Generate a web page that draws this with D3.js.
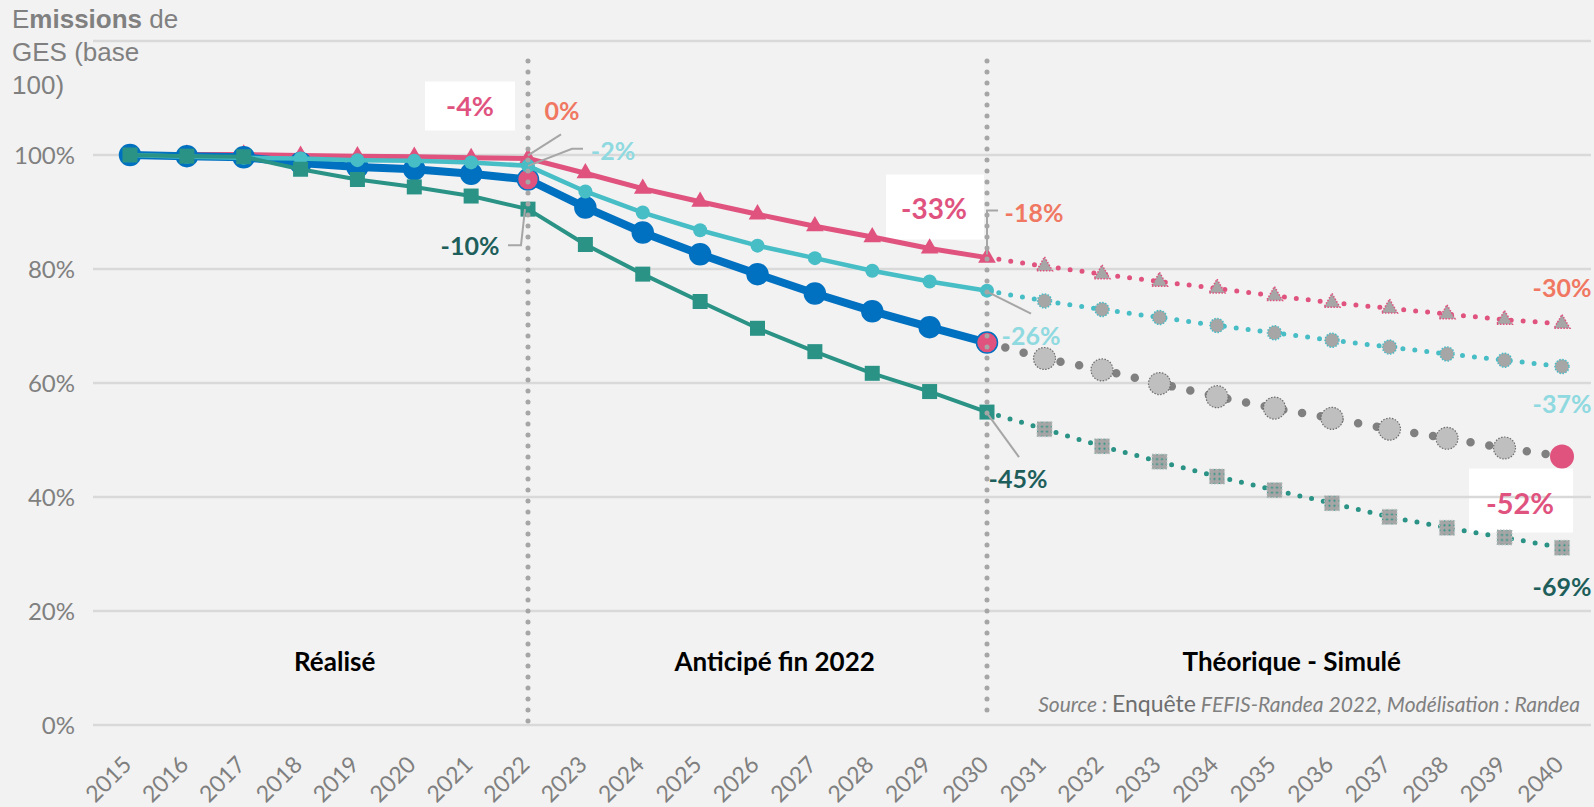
<!DOCTYPE html>
<html>
<head>
<meta charset="utf-8">
<script src="https://cdn.jsdelivr.net/npm/d3@7"></script>
<style>
  html, body { margin: 0; padding: 0; background: #F2F2F2; }
  svg { display: block; }
</style>
</head>
<body>
<div id="chart"></div>
<script>
var outerWidth = 1594, outerHeight = 807

// data (base 100 in 2015)
var years = [2015, 2016, 2017, 2018, 2019, 2020, 2021, 2022, 2023, 2024, 2025, 2026, 2027,
             2028, 2029, 2030, 2031, 2032, 2033, 2034, 2035, 2036, 2037, 2038, 2039, 2040]
var yearsReal = [2015, 2016, 2017, 2018, 2019, 2020, 2021, 2022, 2023, 2024, 2025, 2026, 2027, 2028, 2029, 2030]
var yearsSim = [2030, 2031, 2032, 2033, 2034, 2035, 2036, 2037, 2038, 2039, 2040]

var pinkReal = [100, 100.1, 100.1, 99.9, 99.8, 99.7, 99.5, 99.4, 96.8, 94.1, 91.8, 89.6, 87.5, 85.6, 83.6, 82.0]
var pinkSim = [82.0, 80.5, 79.1, 77.8, 76.6, 75.3, 74.1, 73.1, 72.1, 71.1, 70.4]
var cyanReal = [100, 99.7, 99.5, 99.4, 99.1, 99.0, 98.7, 98.1, 93.6, 89.9, 86.8, 84.1, 81.9, 79.7, 77.8, 76.2]
var cyanSim = [76.2, 74.4, 72.9, 71.5, 70.1, 68.8, 67.5, 66.3, 65.1, 64.0, 62.9]
var blueReal = [100, 99.8, 99.6, 98.6, 97.9, 97.5, 96.7, 95.7, 90.8, 86.4, 82.6, 79.1, 75.7, 72.6, 69.8, 67.1]
var blueSim = [67.1, 64.3, 62.3, 59.9, 57.6, 55.6, 53.8, 51.9, 50.3, 48.6, 47.1]
var tealReal = [100, 99.8, 99.7, 97.5, 95.7, 94.4, 92.8, 90.5, 84.3, 79.1, 74.3, 69.6, 65.5, 61.7, 58.5, 54.9]
var tealSim = [54.9, 51.9, 48.9, 46.2, 43.6, 41.2, 38.9, 36.5, 34.6, 32.9, 31.1]

var yTicks = [0, 20, 40, 60, 80, 100]
var gridValues = [0, 20, 40, 60, 80, 100, 120]
var phaseLimits = [2022, 2030]
var phases = [
  {label: "Réalisé", at: 2018.6},
  {label: "Anticipé fin 2022", at: 2026.3},
  {label: "Théorique - Simulé", at: 2035.3}
]

var colors = {
  pink: "#E0537F", cyan: "#47BDC6", blue: "#0070C0", teal: "#2A9386",
  salmon: "#F07862", lightCyan: "#8FD9E0", darkTeal: "#1E5F5B", gray: "#7F7F7F"
}

// annotations: value labels near points
var annotations = [
  {values: pinkReal, year: 2022, text: "0%", color: colors.salmon, dx: 34, dy: -47, size: 25, leader: [[33, -24], [0, -3]]},
  {values: cyanReal, year: 2022, text: "-2%", color: colors.lightCyan, dx: 85, dy: -15, size: 25, leader: [[55, -17], [44, -17], [0, 0]]},
  {values: blueReal, year: 2022, text: "-4%", color: colors.pink, dx: -58, dy: -73, size: 27, box: [-103, -98, 90, 49]},
  {values: tealReal, year: 2022, text: "-10%", color: colors.darkTeal, dx: -58, dy: 37, size: 25, leader: [[-20, 36], [-7, 36], [-3, 0]]},
  {values: pinkReal, year: 2030, text: "-18%", color: colors.salmon, dx: 47, dy: -45, size: 25, leader: [[11, -47], [0, -47], [0, -3]]},
  {values: cyanReal, year: 2030, text: "-26%", color: colors.lightCyan, dx: 44, dy: 45, size: 25, leader: [[0, 1], [44, 23]]},
  {values: blueReal, year: 2030, text: "-33%", color: colors.pink, dx: -53, dy: -134, size: 28, box: [-101, -168, 98, 65]},
  {values: tealReal, year: 2030, text: "-45%", color: colors.darkTeal, dx: 31, dy: 67, size: 25, leader: [[0, 1], [32, 45]]},
  {values: pinkSim, year: 2040, text: "-30%", color: colors.salmon, dx: 0, dy: -36, size: 25},
  {values: cyanSim, year: 2040, text: "-37%", color: colors.lightCyan, dx: 0, dy: 38, size: 25},
  {values: blueSim, year: 2040, text: "-52%", color: colors.pink, dx: -42, dy: 47, size: 29, box: [-93, 12, 104, 64]},
  {values: tealSim, year: 2040, text: "-69%", color: colors.darkTeal, dx: 0, dy: 39, size: 25}
]

var gridLeft = 93, gridRight = 1591

var xScale = d3.scaleLinear().domain([2015, 2022, 2030, 2040]).range([130, 528, 987, 1562])
var yScale = d3.scaleLinear().domain([0, 120]).range([725, 41])

function valueAt(values, year) {
  var list = values.length === yearsReal.length ? yearsReal : yearsSim
  return values[list.indexOf(year)]
}

var svg = d3.select("#chart").append("svg")
  .attr("width", outerWidth)
  .attr("height", outerHeight)

svg.append("rect").attr("width", outerWidth).attr("height", outerHeight).attr("fill", "#F2F2F2")

var defs = svg.append("defs")
var pat = defs.append("pattern")
  .attr("id", "tealDots")
  .attr("width", 5).attr("height", 5)
  .attr("patternUnits", "userSpaceOnUse")
pat.append("rect").attr("width", 5).attr("height", 5).attr("fill", "#A6A6A6")
pat.append("circle").attr("cx", 2.5).attr("cy", 2.5).attr("r", 1.1).attr("fill", colors.teal)

// white label boxes (under the grid)
annotations.filter(function(a) { return a.box }).forEach(function(a) {
  var px = xScale(a.year), py = yScale(valueAt(a.values, a.year))
  svg.append("rect")
    .attr("x", px + a.box[0]).attr("y", py + a.box[1])
    .attr("width", a.box[2]).attr("height", a.box[3])
    .attr("fill", "#FFFFFF")
})

// grid
svg.append("g").selectAll("line")
  .data(gridValues)
  .enter().append("line")
  .attr("x1", gridLeft).attr("x2", gridRight)
  .attr("y1", function(d) { return yScale(d) })
  .attr("y2", function(d) { return yScale(d) })
  .attr("stroke", "#D9D9D9")
  .attr("stroke-width", 2.5)

// y labels
svg.append("g").selectAll("text")
  .data(yTicks)
  .enter().append("text")
  .attr("x", 75)
  .attr("y", function(d) { return yScale(d) })
  .attr("dy", "0.36em")
  .attr("text-anchor", "end")
  .attr("font-family", "Lato, sans-serif")
  .attr("font-size", "24px")
  .attr("fill", "#808080")
  .text(function(d) { return d + "%" })

// x labels
svg.append("g").selectAll("text")
  .data(years)
  .enter().append("text")
  .attr("transform", function(d) { return "translate(" + (xScale(d) + 3) + ",766) rotate(-45)" })
  .attr("text-anchor", "end")
  .attr("font-family", "Lato, sans-serif")
  .attr("font-size", "23px")
  .attr("fill", "#7F7F7F")
  .text(function(d) { return d })

// title
var title = svg.append("text")
  .attr("font-family", "'Liberation Sans', Arial, sans-serif")
  .attr("font-size", "26px")
  .attr("fill", "#808080")
title.append("tspan").attr("x", 12).attr("y", 28).text("E")
title.append("tspan").attr("font-weight", "bold").text("missions")
title.append("tspan").text(" de")
title.append("tspan").attr("x", 12).attr("y", 61).text("GES (base")
title.append("tspan").attr("x", 12).attr("y", 94).text("100)")

// phase labels
svg.append("g").selectAll("text")
  .data(phases)
  .enter().append("text")
  .attr("x", function(d) { return xScale(d.at) })
  .attr("y", 671)
  .attr("text-anchor", "middle")
  .attr("font-family", "Lato, sans-serif")
  .attr("font-weight", "bold")
  .attr("font-size", "26px")
  .attr("fill", "#000000")
  .text(function(d) { return d.label })

// source
var src = svg.append("text")
  .attr("x", 1580).attr("y", 712)
  .attr("text-anchor", "end")
  .attr("font-family", "Lato, sans-serif")
  .attr("font-size", "21px")
  .attr("fill", "#808080")
src.append("tspan").attr("font-style", "italic").text("Source : ")
src.append("tspan").attr("font-size", "23px").attr("fill", "#6E6E6E").text("Enquête")
src.append("tspan").attr("font-style", "italic").text(" FEFIS-Randea 2022, Modélisation : Randea")

var line = d3.line()
  .x(function(d) { return xScale(d[0]) })
  .y(function(d) { return yScale(d[1]) })

function pairs(ys, vals) { return ys.map(function(y, i) { return [y, vals[i]] }) }
function place(d) { return "translate(" + xScale(d[0]) + "," + yScale(d[1]) + ")" }

var tri = d3.symbol().type(d3.symbolTriangle)
var sq = d3.symbol().type(d3.symbolSquare)

// dotted lines (simulated)
var simSeries = [
  {vals: pinkSim, color: colors.pink, width: 5, dash: "0 12"},
  {vals: cyanSim, color: colors.cyan, width: 5, dash: "0 12"},
  {vals: blueSim, color: "#808080", width: 8.5, dash: "0 19"},
  {vals: tealSim, color: colors.teal, width: 5, dash: "0 12"}
]
simSeries.forEach(function(s) {
  svg.append("path")
    .datum(pairs(yearsSim, s.vals))
    .attr("d", line)
    .attr("fill", "none")
    .attr("stroke", s.color)
    .attr("stroke-width", s.width)
    .attr("stroke-linecap", "round")
    .attr("stroke-dasharray", s.dash)
})

// markers - simulated (2030 is drawn by the solid series)
function simPts(vals) { return pairs(yearsSim, vals).slice(1) }

svg.append("g").selectAll("path")
  .data(simPts(tealSim))
  .enter().append("path")
  .attr("transform", place)
  .attr("d", sq.size(225))
  .attr("fill", "url(#tealDots)")
  .attr("stroke", "#C8C8C8")
  .attr("stroke-width", 1.2)
  .attr("stroke-dasharray", "1.5 1.5")

svg.append("g").selectAll("circle")
  .data(simPts(blueSim))
  .enter().append("circle")
  .attr("cx", function(d) { return xScale(d[0]) })
  .attr("cy", function(d) { return yScale(d[1]) })
  .attr("r", function(d) { return d[0] === 2040 ? 12 : 11 })
  .attr("fill", function(d) { return d[0] === 2040 ? colors.pink : "#BFBFBF" })
  .attr("stroke", function(d) { return d[0] === 2040 ? "none" : "#6E6E6E" })
  .attr("stroke-width", 1.2)
  .attr("stroke-dasharray", "1.5 1.5")

svg.append("g").selectAll("circle")
  .data(simPts(cyanSim))
  .enter().append("circle")
  .attr("cx", function(d) { return xScale(d[0]) })
  .attr("cy", function(d) { return yScale(d[1]) })
  .attr("r", 7)
  .attr("fill", "#A6A6A6")
  .attr("stroke", colors.cyan)
  .attr("stroke-width", 1.5)
  .attr("stroke-dasharray", "1.5 1.5")

svg.append("g").selectAll("path")
  .data(simPts(pinkSim))
  .enter().append("path")
  .attr("transform", place)
  .attr("d", tri.size(110))
  .attr("fill", "#A6A6A6")
  .attr("stroke", colors.pink)
  .attr("stroke-width", 1.5)
  .attr("stroke-dasharray", "1.5 1.5")

// solid series (realised + anticipated), drawn line then markers, pink at the bottom
function solidLine(vals, color, width) {
  svg.append("path")
    .datum(pairs(yearsReal, vals))
    .attr("d", line)
    .attr("fill", "none")
    .attr("stroke", color)
    .attr("stroke-width", width)
    .attr("stroke-linejoin", "round")
}

solidLine(pinkReal, colors.pink, 5)
svg.append("g").selectAll("path")
  .data(pairs(yearsReal, pinkReal))
  .enter().append("path")
  .attr("transform", place)
  .attr("d", tri.size(135))
  .attr("fill", colors.pink)

solidLine(blueReal, colors.blue, 8)
svg.append("g").selectAll("circle")
  .data(pairs(yearsReal, blueReal))
  .enter().append("circle")
  .attr("cx", function(d) { return xScale(d[0]) })
  .attr("cy", function(d) { return yScale(d[1]) })
  .attr("r", 10.5)
  .attr("fill", function(d) { return phaseLimits.indexOf(d[0]) >= 0 ? colors.pink : colors.blue })
  .attr("stroke", colors.blue)
  .attr("stroke-width", 1.5)

solidLine(cyanReal, colors.cyan, 4.5)
svg.append("g").selectAll("circle")
  .data(pairs(yearsReal, cyanReal))
  .enter().append("circle")
  .attr("cx", function(d) { return xScale(d[0]) })
  .attr("cy", function(d) { return yScale(d[1]) })
  .attr("r", 7)
  .attr("fill", colors.cyan)

solidLine(tealReal, colors.teal, 4)
svg.append("g").selectAll("path")
  .data(pairs(yearsReal, tealReal))
  .enter().append("path")
  .attr("transform", place)
  .attr("d", sq.size(225))
  .attr("fill", colors.teal)

// phase separators (dotted, on top)
svg.append("g").selectAll("line")
  .data(phaseLimits)
  .enter().append("line")
  .attr("x1", function(d) { return xScale(d) })
  .attr("x2", function(d) { return xScale(d) })
  .attr("y1", yScale(116.5))
  .attr("y2", function(d) { return d === 2022 ? yScale(-0.7) : yScale(1.6) })
  .attr("stroke", "#A6A6A6")
  .attr("stroke-width", 5)
  .attr("stroke-linecap", "round")
  .attr("stroke-dasharray", "0 11")

// leaders + labels
annotations.forEach(function(a) {
  var px = xScale(a.year), py = yScale(valueAt(a.values, a.year))
  if (a.leader) {
    svg.append("polyline")
      .attr("points", a.leader.map(function(p) { return (px + p[0]) + "," + (py + p[1]) }).join(" "))
      .attr("fill", "none")
      .attr("stroke", "#A6A6A6")
      .attr("stroke-width", 2)
  }
  svg.append("text")
    .attr("x", px + a.dx)
    .attr("y", py + a.dy)
    .attr("dy", "0.36em")
    .attr("text-anchor", "middle")
    .attr("font-family", "Lato, sans-serif")
    .attr("font-weight", "bold")
    .attr("font-size", a.size + "px")
    .attr("fill", a.color)
    .text(a.text)
})
</script>
</body>
</html>
